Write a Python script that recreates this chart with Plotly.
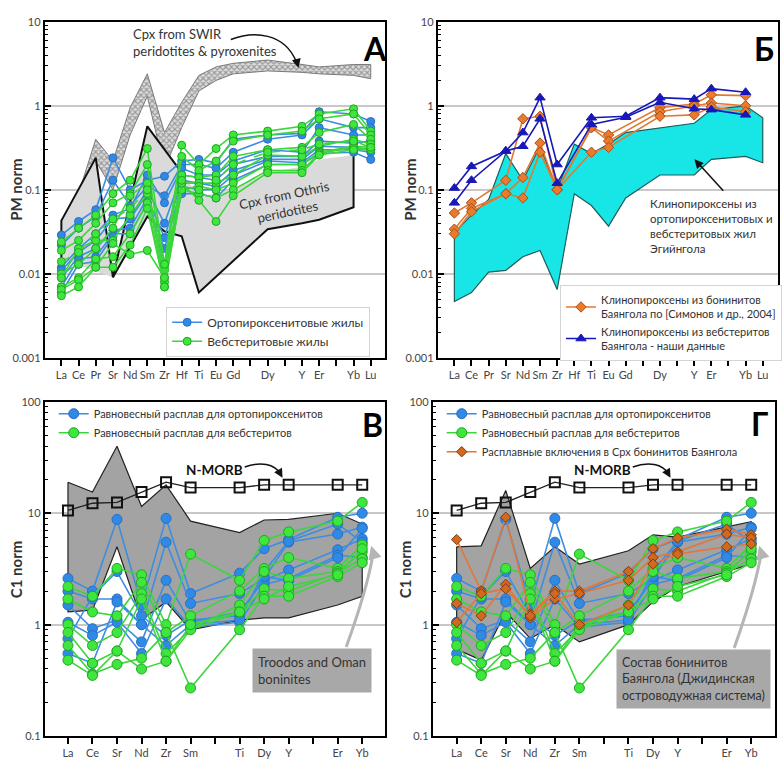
import plotly.graph_objects as go

W, H = 782, 762


def px(x):
    return x / W


def py(y):
    return 1 - y / H


FONT = "Lato"
TXT = "#333333"

# ---------------- element axes ----------------
PM_TICKS = ["La", "Ce", "Pr", "Sr", "Nd", "Sm", "Zr", "Hf", "Ti", "Eu", "Gd", "",
            "Dy", "", "Y", "Er", "", "Yb", "Lu"]
PM_ELEMS = ["La", "Ce", "Pr", "Sr", "Nd", "Sm", "Zr", "Hf", "Ti", "Eu", "Gd",
            "Dy", "Y", "Er", "Yb", "Lu"]
C1_TICKS = ["La", "Ce", "Sr", "Nd", "Zr", "Sm", "", "Ti", "Dy", "Y", "", "Er", "Yb"]
C1_ELEMS = ["La", "Ce", "Sr", "Nd", "Zr", "Sm", "Ti", "Dy", "Y", "Er", "Yb"]

# ---------------- panel A: vein clinopyroxenes, PM-normalised ----------------
ORTHO_CPX = [
    [0.029, 0.042, 0.058, 0.24, 0.10, 0.13, 0.145, 0.22, 0.23, 0.21, 0.40, 0.45, 0.47, 0.85, 0.80, 0.65],
    [0.022, 0.035, 0.048, 0.13, 0.065, 0.11, 0.085, 0.20, 0.20, 0.18, 0.28, 0.40, 0.45, 0.70, 0.55, 0.55],
    [0.012, 0.020, 0.030, 0.050, 0.060, 0.15, 0.070, 0.18, 0.15, 0.15, 0.22, 0.30, 0.28, 0.55, 0.45, 0.45],
    [0.011, 0.018, 0.025, 0.045, 0.047, 0.10, 0.040, 0.15, 0.14, 0.13, 0.20, 0.25, 0.25, 0.38, 0.36, 0.38],
    [0.009, 0.016, 0.020, 0.033, 0.035, 0.080, 0.027, 0.13, 0.12, 0.11, 0.17, 0.23, 0.23, 0.33, 0.32, 0.30],
    [0.007, 0.015, 0.016, 0.030, 0.030, 0.070, 0.020, 0.11, 0.10, 0.10, 0.15, 0.22, 0.21, 0.30, 0.30, 0.28],
    [0.006, 0.013, 0.014, 0.028, 0.045, 0.090, 0.012, 0.09, 0.09, 0.08, 0.13, 0.20, 0.20, 0.27, 0.28, 0.23],
]
WEBST_CPX = [
    [0.024, 0.035, 0.050, 0.090, 0.13, 0.31, 0.013, 0.34, 0.20, 0.31, 0.45, 0.50, 0.57, 0.80, 0.92, 0.50],
    [0.019, 0.025, 0.040, 0.070, 0.090, 0.20, 0.011, 0.25, 0.17, 0.22, 0.38, 0.45, 0.50, 0.70, 0.80, 0.45],
    [0.010, 0.013, 0.020, 0.035, 0.085, 0.12, 0.009, 0.15, 0.14, 0.15, 0.25, 0.30, 0.32, 0.48, 0.60, 0.40],
    [0.009, 0.020, 0.025, 0.025, 0.050, 0.090, 0.008, 0.12, 0.12, 0.12, 0.15, 0.26, 0.25, 0.33, 0.40, 0.35],
    [0.007, 0.009, 0.015, 0.016, 0.030, 0.070, 0.007, 0.10, 0.11, 0.10, 0.12, 0.20, 0.20, 0.28, 0.33, 0.32],
    [0.0065, 0.0085, 0.012, 0.012, 0.022, 0.060, 0.007, 0.10, 0.09, 0.08, 0.10, 0.17, 0.17, 0.27, 0.32, 0.30],
    [0.0055, 0.007, 0.012, 0.023, 0.017, 0.019, 0.009, 0.12, 0.075, 0.042, 0.085, 0.16, 0.16, 0.26, 0.30, 0.30],
    [0.014, 0.018, 0.030, 0.045, 0.060, 0.10, 0.013, 0.13, 0.10, 0.13, 0.20, 0.28, 0.30, 0.35, 0.38, 0.32],
]

# SWIR cpx band (upper and lower edges)
SWIR_UPPER = [0.035, 0.09, 0.40, 0.22, 0.95, 2.4, 0.48, 1.1, 2.3, 2.9, 3.2, 3.5, 3.1, 2.9, 3.1, 3.1]
SWIR_LOWER = [0.018, 0.045, 0.22, 0.10, 0.45, 1.3, 0.18, 0.55, 1.5, 2.0, 2.4, 2.6, 2.5, 2.4, 2.3, 2.1]

# Othris cpx field (closed ring) and its outlined edges
OTHRIS_RING_ELEMS = ["La", "La", "Pr", "Sr", "Sm", "Hf", "Ti", "Eu", "Gd", "Dy", "Y", "Er", "Yb",
                     "Yb", "Er", "Y", "Dy", "Ti", "Hf", "Zr", "Sm", "Sr", "La"]
OTHRIS_RING_VALS = [0.015, 0.043, 0.24, 0.0091, 0.57, 0.16, 0.085, 0.09, 0.105, 0.16, 0.19, 0.23, 0.26,
                    0.062, 0.044, 0.04, 0.034, 0.006, 0.028, 0.032, 0.048, 0.0091, 0.015]
OTHRIS_EDGE1_ELEMS = ["La", "La", "Pr", "Sr", "Sm", "Hf"]
OTHRIS_EDGE1_VALS = [0.015, 0.043, 0.24, 0.0091, 0.57, 0.16]
OTHRIS_EDGE2_ELEMS = ["Sr", "Sm", "Zr", "Hf", "Ti", "Dy", "Y", "Er", "Yb", "Yb"]
OTHRIS_EDGE2_VALS = [0.0091, 0.048, 0.032, 0.028, 0.006, 0.034, 0.04, 0.044, 0.062, 0.26]

# ---------------- panel Б: Bayangol clinopyroxenes ----------------
EGIIN_UPPER = [0.031, 0.05, 0.077, 0.27, 0.13, 0.33, 0.10, 0.35, 0.27, 0.35, 0.48, 0.55, 0.62, 0.90, 1.00, 0.72]
EGIIN_LOWER = [0.0047, 0.006, 0.0105, 0.011, 0.016, 0.019, 0.0065, 0.09, 0.065, 0.037, 0.08, 0.15, 0.15, 0.23, 0.25, 0.21]

BONINITE_CPX_ELEMS = ["La", "Ce", "Sr", "Nd", "Sm", "Zr", "Ti", "Eu", "Dy", "Y", "Er", "Yb"]
BONINITE_CPX = [
    [0.053, 0.070, 0.13, 0.70, 0.75, 0.10, 0.55, 0.45, 0.95, 1.05, 1.35, 1.32],
    [0.034, 0.060, 0.09, 0.14, 0.36, 0.10, 0.55, 0.38, 0.85, 1.00, 1.08, 1.00],
    [0.030, 0.055, 0.09, 0.08, 0.28, 0.10, 0.28, 0.32, 0.75, 0.78, 0.97, 0.85],
]
BAYANGOL_WEBST_ELEMS = ["La", "Ce", "Sr", "Nd", "Sm", "Zr", "Ti", "Gd", "Dy", "Y", "Er", "Yb"]
BAYANGOL_WEBST = [
    [0.105, 0.19, 0.29, 0.48, 1.25, 0.20, 0.72, 0.75, 1.25, 1.20, 1.60, 1.45],
    [0.070, 0.13, 0.29, 0.33, 0.70, 0.12, 0.60, 0.73, 1.10, 0.92, 0.90, 0.78],
]

# ---------------- panels В, Г: equilibrium melts, C1-normalised ----------------
ORTHO_MELT = [
    [2.6, 2.0, 8.8, 1.5, 9.0, 1.9, 2.9, 4.8, 5.8, 9.2, 10.0],
    [2.0, 1.7, 1.7, 1.0, 5.5, 1.55, 1.9, 2.6, 5.5, 6.5, 7.5],
    [1.5, 0.92, 1.1, 0.7, 2.5, 1.05, 1.3, 2.5, 3.1, 4.7, 5.9],
    [1.05, 0.8, 1.05, 0.55, 1.7, 0.95, 1.05, 2.3, 2.6, 4.2, 4.0],
    [0.75, 1.8, 3.0, 1.2, 0.8, 1.1, 1.2, 2.7, 2.5, 4.0, 7.3],
    [0.55, 0.45, 1.6, 1.0, 0.65, 1.0, 1.1, 3.0, 5.6, 8.0, 5.5],
]
WEBST_MELT = [
    [2.2, 1.8, 3.2, 2.8, 1.0, 4.3, 2.5, 5.7, 6.8, 8.5, 12.5],
    [1.7, 1.3, 1.2, 2.4, 0.85, 1.2, 2.0, 3.2, 4.0, 3.2, 5.2],
    [1.0, 0.65, 0.85, 1.9, 0.55, 0.92, 1.5, 3.0, 2.6, 3.0, 4.5],
    [0.85, 0.45, 0.58, 1.7, 0.47, 0.9, 1.3, 2.1, 2.0, 2.9, 3.9],
    [0.65, 0.36, 0.44, 0.5, 0.85, 0.27, 0.9, 1.8, 1.8, 2.7, 3.6],
    [0.48, 0.35, 0.58, 0.4, 0.47, 1.0, 1.3, 1.7, 2.2, 2.8, 4.8],
]
N_MORB = [10.6, 12.3, 12.5, 15.5, 19.0, 17.0, 17.0, 18.0, 18.0, 18.0, 18.0]

TROODOS_UPPER = [19, 15.5, 40, 11.5, 18, 8.5, 6.7, 8.7, 8.8, 10, 8]
TROODOS_LOWER = [1.3, 1.35, 5.0, 1.1, 1.6, 0.9, 1.1, 1.15, 1.15, 1.5, 1.8]

BAYANGOL_BON_UPPER = [5.0, 5.1, 16, 3.2, 5.0, 3.5, 4.6, 6.4, 6.1, 7.5, 8.4]
BAYANGOL_BON_LOWER = [0.6, 0.48, 1.3, 0.75, 1.0, 0.7, 1.0, 1.6, 2.2, 3.0, 3.5]

MELT_INCL = [
    [5.8, 2.0, 9.2, 1.25, 2.0, 2.0, 3.0, 4.8, 6.0, 7.2, 6.4],
    [1.55, 1.2, 2.3, 1.15, 1.7, 1.9, 2.5, 4.0, 4.5, 6.5, 6.0],
    [1.05, 1.9, 2.1, 1.2, 1.9, 1.0, 1.5, 3.5, 4.3, 5.0, 5.3],
]

# ---------------- styles ----------------
BLUE_LINE, BLUE_FILL, BLUE_EDGE = "#3d8ee0", "#2f8ae6", "#2a6fc0"
GREEN_LINE, GREEN_FILL, GREEN_EDGE = "#3bd63b", "#3ee63e", "#22a522"
ORANGE_LINE, ORANGE_FILL, ORANGE_EDGE = "#e07a32", "#ea7a2c", "#a8501c"
NAVY = "#1818b8"
INCL_LINE, INCL_FILL, INCL_EDGE = "#e0783a", "#d2691e", "#7a3a12"


def pm_x(elems):
    return [PM_TICKS.index(e) for e in elems]


def c1_x(elems):
    return [C1_TICKS.index(e) for e in elems]


fig = go.Figure()


def polygon(xs_up, ys_up, xs_lo, ys_lo, xa, ya, **kw):
    fig.add_trace(go.Scatter(
        x=xs_up + xs_lo[::-1] + [xs_up[0]], y=ys_up + ys_lo[::-1] + [ys_up[0]],
        fill="toself", mode="lines", showlegend=False, hoverinfo="skip",
        xaxis=xa, yaxis=ya, **kw))


def series(xs, ys, xa, ya, line, fill, edge, symbol, size, name, show, legend, dash="solid"):
    fig.add_trace(go.Scatter(
        x=xs, y=ys, mode="lines+markers", name=name, showlegend=show, legend=legend,
        line=dict(color=line, width=1.6, dash=dash),
        marker=dict(symbol=symbol, size=size, color=fill, line=dict(color=edge, width=1)),
        xaxis=xa, yaxis=ya))


# ---- panel А ----
xa = pm_x(PM_ELEMS)
polygon(xa, SWIR_UPPER, xa, SWIR_LOWER, "x", "y",
        line=dict(color="#7a7a7a", width=1), fillcolor="#d8d8d8",
        fillpattern=dict(shape="x", fgcolor="#555555", bgcolor="#dcdcdc", size=4, solidity=0.5))
fig.add_trace(go.Scatter(x=pm_x(OTHRIS_RING_ELEMS), y=OTHRIS_RING_VALS, fill="toself", mode="lines",
                         fillcolor="#dadada", line=dict(width=0, color="#dadada"), showlegend=False,
                         hoverinfo="skip", xaxis="x", yaxis="y"))
for el, vl in [(OTHRIS_EDGE1_ELEMS, OTHRIS_EDGE1_VALS), (OTHRIS_EDGE2_ELEMS, OTHRIS_EDGE2_VALS)]:
    fig.add_trace(go.Scatter(x=pm_x(el), y=vl, mode="lines", line=dict(color="#111111", width=2),
                             showlegend=False, hoverinfo="skip", xaxis="x", yaxis="y"))
for i, s in enumerate(ORTHO_CPX):
    series(xa, s, "x", "y", BLUE_LINE, BLUE_FILL, BLUE_EDGE, "circle", 8,
           "Ортопироксенитовые жилы", i == 0, "legend")
for i, s in enumerate(WEBST_CPX):
    series(xa, s, "x", "y", GREEN_LINE, GREEN_FILL, GREEN_EDGE, "circle", 8,
           "Вебстеритовые жилы", i == 0, "legend", dash="dash" if i == len(WEBST_CPX) - 1 else "solid")

# ---- panel Б ----
polygon(xa, EGIIN_UPPER, xa, EGIIN_LOWER, "x2", "y2",
        line=dict(color="#1d5c5c", width=1.2), fillcolor="#18e6e6")
for i, s in enumerate(BONINITE_CPX):
    series(pm_x(BONINITE_CPX_ELEMS), s, "x2", "y2", ORANGE_LINE, ORANGE_FILL, ORANGE_EDGE, "diamond", 8,
           "Клинопироксены из бонинитов<br>Баянгола по [Симонов и др., 2004]", i == 0, "legend2")
for i, s in enumerate(BAYANGOL_WEBST):
    series(pm_x(BAYANGOL_WEBST_ELEMS), s, "x2", "y2", NAVY, NAVY, NAVY, "triangle-up", 9,
           "Клинопироксены из вебстеритов<br>Баянгола - наши данные", i == 0, "legend2")

# ---- panels В and Г ----
xc = c1_x(C1_ELEMS)
polygon(xc, TROODOS_UPPER, xc, TROODOS_LOWER, "x3", "y3",
        line=dict(color="#222222", width=1.2), fillcolor="#a3a3a3")
polygon(xc, BAYANGOL_BON_UPPER, xc, BAYANGOL_BON_LOWER, "x4", "y4",
        line=dict(color="#222222", width=1.2), fillcolor="#a3a3a3")
for xa_, ya_, lg in [("x3", "y3", "legend3"), ("x4", "y4", "legend4")]:
    fig.add_trace(go.Scatter(x=xc, y=N_MORB, mode="lines+markers", showlegend=False,
                             line=dict(color="#222222", width=1.3),
                             marker=dict(symbol="square-open", size=10, color="#111111",
                                         line=dict(width=2)),
                             xaxis=xa_, yaxis=ya_))
    for i, s in enumerate(ORTHO_MELT):
        series(xc, s, xa_, ya_, BLUE_LINE, BLUE_FILL, BLUE_EDGE, "circle", 10,
               "Равновесный расплав для ортопироксенитов", i == 0, lg)
    for i, s in enumerate(WEBST_MELT):
        series(xc, s, xa_, ya_, GREEN_LINE, GREEN_FILL, GREEN_EDGE, "circle", 10,
               "Равновесный расплав для вебстеритов", i == 0, lg)
for i, s in enumerate(MELT_INCL):
    series(xc, s, "x4", "y4", INCL_LINE, INCL_FILL, INCL_EDGE, "diamond", 8,
           "Расплавные включения в Срх бонинитов Баянгола", i == 0, "legend4")


# ---------------- axes ----------------
def xaxis(domain, rng, ticktext, anchor):
    return dict(domain=domain, range=rng, anchor=anchor, tickmode="array",
                tickvals=list(range(len(ticktext))), ticktext=ticktext,
                ticks="outside", ticklen=6, tickwidth=1.5, tickcolor="black",
                showline=True, linecolor="black", linewidth=2, mirror=True,
                showgrid=False, zeroline=False, fixedrange=True,
                tickfont=dict(family=FONT, size=11, color="#444444"))


def yaxis(domain, lo, hi, anchor):
    vals = [10.0 ** k for k in range(lo, hi + 1)]
    text = [("%g" % v) for v in vals]
    minor_vals = [m * 10.0 ** k for k in range(lo, hi) for m in range(2, 10)]
    return dict(domain=domain, type="log", range=[lo, hi], anchor=anchor,
                tickmode="array", tickvals=vals, ticktext=text,
                ticks="inside", ticklen=6, tickwidth=1.5, tickcolor="black",
                showgrid=True, gridcolor="#c8c8c8", gridwidth=2,
                showline=True, linecolor="black", linewidth=2, mirror=True,
                zeroline=False, fixedrange=True,
                minor=dict(tickmode="array", tickvals=minor_vals, ticks="inside", ticklen=3,
                           tickwidth=1, tickcolor="black", showgrid=False),
                tickfont=dict(family=FONT, size=11, color="#444444"))


TOP = [py(357), py(15)]
BOT = [py(741.7), py(401.7)]

annotations = []
shapes = []


def text(x, y, s, size=13, bold=False, color=TXT, xanchor="center", yanchor="middle", **kw):
    annotations.append(dict(x=px(x), y=py(y), xref="paper", yref="paper",
                            text=("<b>%s</b>" % s) if bold else s, xanchor=xanchor, yanchor=yanchor,
                            showarrow=False, font=dict(family=FONT, size=size, color=color), **kw))


def arrow_head(x, y, tx, ty, color="#111111", width=1.5, size=1.2):
    annotations.append(dict(x=px(x), y=py(y), xref="paper", yref="paper", text="",
                            showarrow=True, ax=tx - x, ay=ty - y, arrowhead=2, arrowsize=size,
                            arrowwidth=width, arrowcolor=color))


def curve(path_px, color="#111111", width=1.5):
    out = []
    for tok in path_px.split():
        if "," in tok:
            a, b = tok.split(",")
            out.append("%.5f,%.5f" % (px(float(a)), py(float(b))))
        else:
            out.append(tok)
    shapes.append(dict(type="path", xref="paper", yref="paper", path=" ".join(out),
                       line=dict(color=color, width=width)))


# axis titles
text(16, 186, "PM norm", size=15, bold=True, textangle=-90)
text(412, 186, "PM norm", size=15, bold=True, textangle=-90)
text(16, 572, "C1 norm", size=15, bold=True, textangle=-90)
text(407, 572, "C1 norm", size=15, bold=True, textangle=-90)

# panel letters
text(377, 42, "А", size=32, bold=True, color="#000000")
text(768, 42, "Б", size=32, bold=True, color="#000000")
text(374, 425, "В", size=32, bold=True, color="#000000")
text(763, 424, "Г", size=32, bold=True, color="#000000")

# panel А labels
text(132, 36, "Cpx from SWIR<br>peridotites &amp; pyroxenites", size=13, xanchor="left", align="left")
text(287, 200, "Cpx from Othris<br>peridotites", size=13, textangle=-12)
curve("M 232,33 C 255,24 286,26 298,56")
arrow_head(300, 62, 298, 54)

# panel Б labels
text(651, 223, "Клинопироксены из<br>ортопироксенитовых и<br>вебстеритовых жил<br>Эгийнгола",
     size=11.5, xanchor="left", align="left")
curve("M 727,187 L 700,157")
arrow_head(698, 155, 706, 164)

# panels В, Г labels
for dx in (0, 390):
    text(216 + dx, 471, "N-MORB", size=13.5, bold=True, color="#111111")
    curve("M %d,468 C %d,462 %d,465 %d,475" % (246 + dx, 262 + dx, 276 + dx, 282 + dx))
    arrow_head(284 + dx, 479, 280 + dx, 472)

annotations.append(dict(x=px(253), y=py(652), xref="paper", yref="paper", xanchor="left", yanchor="top",
                        text="Troodos and Oman<br>boninites", showarrow=False, align="left",
                        bgcolor="#a8a8a8", borderpad=5,
                        font=dict(family=FONT, size=13, color=TXT)))
annotations.append(dict(x=px(619), y=py(653), xref="paper", yref="paper", xanchor="left", yanchor="top",
                        text="Состав бонинитов<br>Баянгола (Джидинская<br>островодужная система)",
                        showarrow=False, align="left", bgcolor="#a8a8a8", borderpad=5,
                        font=dict(family=FONT, size=12.5, color=TXT)))
curve("M 348,651 C 362,612 372,575 375,556", color="#b5b5b5", width=3)
arrow_head(373, 548, 376, 558, color="#b5b5b5", width=3, size=0.9)
curve("M 738,652 C 752,612 762,575 765,556", color="#b5b5b5", width=3)
arrow_head(763, 548, 766, 558, color="#b5b5b5", width=3, size=0.9)

legend_font = dict(family=FONT, color=TXT)
fig.update_layout(
    width=W, height=H, margin=dict(l=0, r=0, t=0, b=0),
    paper_bgcolor="white", plot_bgcolor="white",
    xaxis=xaxis([px(45), px(387)], [-0.966, 18.83], PM_TICKS, "y"),
    yaxis=yaxis(TOP, -3, 1, "x"),
    xaxis2=xaxis([px(440), 1.0], [-0.97, 18.89], PM_TICKS, "y2"),
    yaxis2=yaxis(TOP, -3, 1, "x2"),
    xaxis3=xaxis([px(45), px(387)], [-0.946, 12.93], C1_TICKS, "y3"),
    yaxis3=yaxis(BOT, -1, 2, "x3"),
    xaxis4=xaxis([px(435), px(779)], [-0.973, 12.97], C1_TICKS, "y4"),
    yaxis4=yaxis(BOT, -1, 2, "x4"),
    legend=dict(x=px(167), y=py(305), xanchor="left", yanchor="top", bgcolor="white",
                bordercolor="#d4d4d4", borderwidth=1, font=dict(size=12, **legend_font)),
    legend2=dict(x=px(563), y=py(283), xanchor="left", yanchor="top", bgcolor="white",
                 bordercolor="#d4d4d4", borderwidth=1, font=dict(size=11, **legend_font)),
    legend3=dict(x=px(54), y=py(399), xanchor="left", yanchor="top", bgcolor="rgba(0,0,0,0)",
                 borderwidth=0, font=dict(size=11, **legend_font)),
    legend4=dict(x=px(444), y=py(399), xanchor="left", yanchor="top", bgcolor="rgba(0,0,0,0)",
                 borderwidth=0, font=dict(size=11, **legend_font)),
    annotations=annotations, shapes=shapes,
)

fig.write_html("out.html")
